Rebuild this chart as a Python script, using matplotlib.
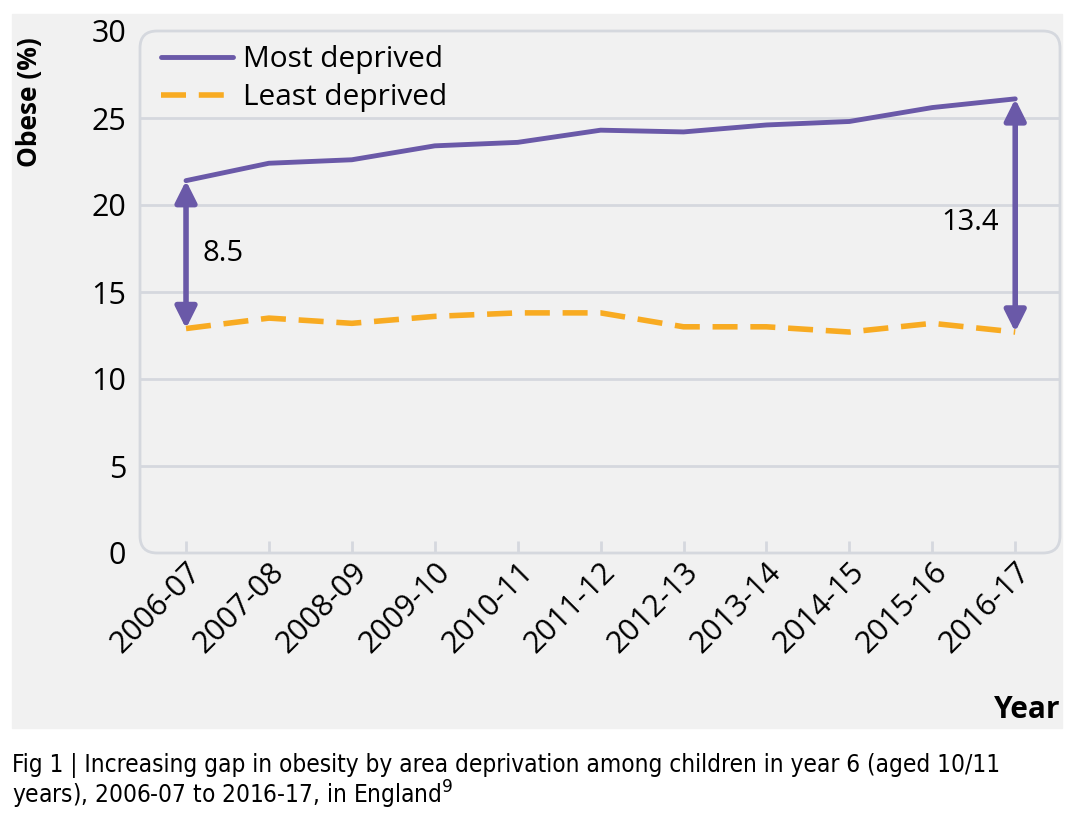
import numpy as np
import matplotlib.pyplot as plt
from matplotlib.patches import FancyBboxPatch, Rectangle

years = ['2006-07', '2007-08', '2008-09', '2009-10', '2010-11', '2011-12',
         '2012-13', '2013-14', '2014-15', '2015-16', '2016-17']
most_deprived = [21.4, 22.4, 22.6, 23.4, 23.6, 24.3, 24.2, 24.6, 24.8, 25.6, 26.1]
least_deprived = [12.9, 13.5, 13.2, 13.6, 13.8, 13.8, 13.0, 13.0, 12.7, 13.2, 12.7]
gap_labels = ['8.5', '13.4']

purple = '#6a59a8'
orange = '#f8ab22'
border = '#d5d8de'
panel = '#f1f1f1'
font = ['Open Sans', 'DejaVu Sans']

plt.rcParams['font.family'] = font

W, H = 1069, 815
fig = plt.figure(figsize=(W / 100, H / 100), dpi=100)
fig.patch.set_facecolor('white')
fig.add_artist(Rectangle((12 / W, 1 - 728 / H), (1062 - 12) / W, (728 - 14) / H,
                         transform=fig.transFigure, color=panel, zorder=0))

ax = fig.add_axes([140 / W, 1 - 553 / H, (1060 - 140) / W, (553 - 31) / H])
ax.set_facecolor('none')
x = np.arange(len(years))
ax.set_xlim(-0.555, 10.54)
ax.set_ylim(0, 30)

# rounded frame
l, b, w, h = ax.get_position().bounds
frame = FancyBboxPatch((l, b), w, h, boxstyle='round,pad=0,rounding_size=0.016',
                       mutation_aspect=W / H, transform=fig.transFigure,
                       fill=False, ec=border, lw=2, zorder=1)
fig.add_artist(frame)
for s in ax.spines.values():
    s.set_visible(False)

ax.set_yticks(range(0, 31, 5))
for yv in range(5, 30, 5):
    ax.axhline(yv, color=border, lw=2, zorder=1)

ax.plot(x, most_deprived, color=purple, lw=3.5, solid_capstyle='round',
        label='Most deprived', zorder=3)
ax.plot(x, least_deprived, color=orange, lw=4, dashes=(4.5, 2.3),
        label='Least deprived', zorder=3)

# gap arrows
for i, lab, tx, ty, ha in [(0, gap_labels[0], 0.2, 17.2, 'left'),
                           (10, gap_labels[1], 9.8, 19.0, 'right')]:
    ax.annotate('', xy=(x[i], most_deprived[i]), xytext=(x[i], least_deprived[i]),
                arrowprops=dict(arrowstyle='<|-|>', color=purple, lw=4,
                                mutation_scale=32, shrinkA=0, shrinkB=0), zorder=4)
    ax.text(tx, ty, lab, fontsize=21, ha=ha, va='center', color='black')

ax.set_xticks(x)
ax.set_xticklabels(years, rotation=45, ha='right', rotation_mode='anchor')
ax.tick_params(axis='x', direction='in', length=9, width=2, color=border,
               labelsize=22, pad=3)
ax.tick_params(axis='y', length=0, labelsize=22, pad=10)

ax.legend(loc='upper left', bbox_to_anchor=(0.0, 1.013), frameon=False,
          fontsize=21.5, handlelength=2.4, handletextpad=0.35, labelspacing=0.3,
          borderaxespad=0.3)

fig.text(30 / W, 1 - 102 / H, 'Obese (%)', rotation=90, ha='center', va='center',
         fontsize=19, fontweight='bold')
fig.text(1060 / W, 1 - 710 / H, 'Year', ha='right', va='center',
         fontsize=21.5, fontweight='bold')

cap = ['DejaVu Sans']
fig.text(12 / W, 1 - 765 / H,
         'Fig 1 | Increasing gap in obesity by area deprivation among children in year 6 (aged 10/11',
         ha='left', va='center', fontsize=17.5, family=cap, stretch='condensed')
fig.text(12 / W, 1 - 795 / H, 'years), 2006-07 to 2016-17, in England$^9$',
         ha='left', va='center', fontsize=17.5, family=cap, stretch='condensed')

fig.savefig('out.png', dpi=100)
